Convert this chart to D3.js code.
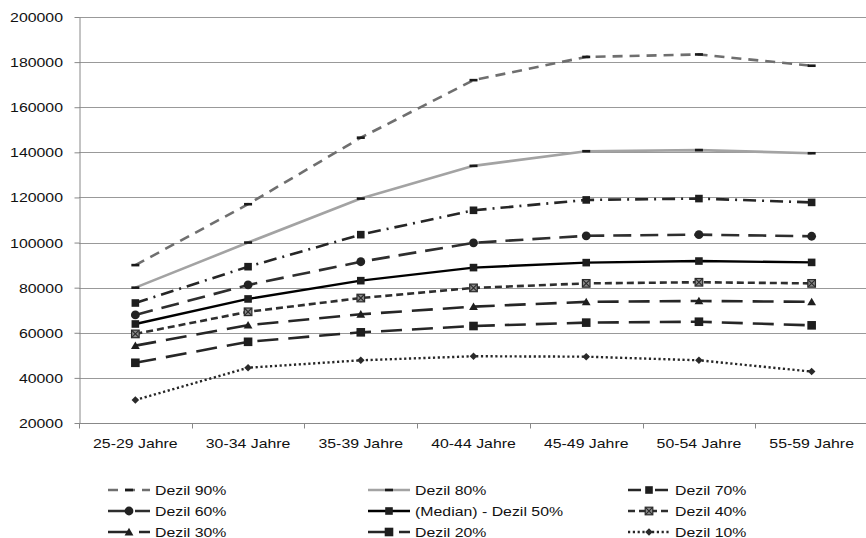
<!DOCTYPE html>
<html>
<head>
<meta charset="utf-8">
<script src="https://cdn.jsdelivr.net/npm/d3@7"></script>
<style>
  html, body { margin: 0; padding: 0; background: #fff; }
  svg { display: block; font-family: "Liberation Sans", Arial, sans-serif; }
</style>
</head>
<body>
<svg id="chart" width="866" height="538"></svg>
<script>
// Age groups along the x axis
const categories = ["25-29 Jahre", "30-34 Jahre", "35-39 Jahre", "40-44 Jahre", "45-49 Jahre", "50-54 Jahre", "55-59 Jahre"];

// Income deciles per age group
const dezil90 = [90000, 117000, 146500, 172000, 182300, 183400, 178400];
const dezil80 = [80000, 100000, 119500, 134000, 140500, 141000, 139600];
const dezil70 = [73200, 89300, 103500, 114300, 118900, 119500, 117800];
const dezil60 = [67900, 81200, 91500, 99900, 103000, 103500, 102800];
const dezil50 = [63900, 75000, 83100, 88900, 91100, 91800, 91200];
const dezil40 = [59500, 69300, 75400, 79900, 81900, 82400, 81900];
const dezil30 = [54300, 63400, 68200, 71600, 73700, 74100, 73700];
const dezil20 = [46700, 56000, 60200, 63000, 64500, 64900, 63300];
const dezil10 = [30200, 44500, 47800, 49600, 49400, 47800, 42800];

const yTicks = [20000, 40000, 60000, 80000, 100000, 120000, 140000, 160000, 180000, 200000];

const seriesNames = ["Dezil 90%", "Dezil 80%", "Dezil 70%", "Dezil 60%", "(Median) - Dezil 50%", "Dezil 40%", "Dezil 30%", "Dezil 20%", "Dezil 10%"];
const seriesValues = [dezil90, dezil80, dezil70, dezil60, dezil50, dezil40, dezil30, dezil20, dezil10];

// Line and marker styling per series
const styles = [
  { color: "#6f6f6f", width: 2.6, dash: "10,7", marker: "bar" },
  { color: "#a3a3a3", width: 2.6, dash: null, marker: "bar" },
  { color: "#262626", width: 2.6, dash: "13,6,2,6", marker: "square" },
  { color: "#2e2e2e", width: 2.6, dash: "18,9", marker: "circle" },
  { color: "#000000", width: 2.4, dash: null, marker: "square" },
  { color: "#2e2e2e", width: 2.6, dash: "7,4", marker: "xbox" },
  { color: "#262626", width: 2.6, dash: "21,10", marker: "triangle" },
  { color: "#262626", width: 2.6, dash: "21,10", marker: "bigsquare" },
  { color: "#262626", width: 2.4, dash: "2.2,2.6", marker: "diamond" }
];

const svg = d3.select("#chart");
const plotLeft = 79, plotRight = 868, plotTop = 17, plotBottom = 423;
const SX = 1.22; // horizontal stretch of all labels
const fontSize = 13;

const x = d3.scaleBand().domain(categories).range([plotLeft, plotRight]).paddingInner(0).paddingOuter(0);
const cx = d => x(d) + x.bandwidth() / 2;
const y = d3.scaleLinear().domain([20000, 200000]).range([plotBottom, plotTop]);

// Horizontal gridlines
svg.append("g")
  .selectAll("line")
  .data(yTicks.filter(t => t > 20000))
  .join("line")
  .attr("x1", plotLeft).attr("x2", 866)
  .attr("y1", d => Math.round(y(d)) + 0.5).attr("y2", d => Math.round(y(d)) + 0.5)
  .attr("stroke", "#999").attr("stroke-width", 1);

// Y axis
const yAxis = svg.append("g")
  .attr("transform", `translate(${plotLeft + 0.5},0)`)
  .call(d3.axisLeft(y).tickValues(yTicks).tickSize(5).tickSizeOuter(0).tickFormat(d3.format("d")));
yAxis.select(".domain").attr("stroke", "#888");
yAxis.selectAll(".tick line").attr("stroke", "#888");
yAxis.selectAll(".tick text")
  .attr("x", -16.5 / SX)
  .attr("dy", "0.35em")
  .attr("transform", `scale(${SX},1)`)
  .attr("font-size", fontSize)
  .attr("font-family", "Liberation Sans, Arial, sans-serif")
  .attr("fill", "#111");

// X axis line and tick marks at band boundaries
const xAxis = svg.append("g").attr("transform", `translate(0,${plotBottom + 0.5})`);
xAxis.append("line").attr("x1", plotLeft).attr("x2", 866).attr("stroke", "#888");
xAxis.selectAll("line.tk")
  .data(categories.map((c, i) => i).concat([categories.length]))
  .join("line").attr("class", "tk")
  .attr("x1", i => Math.round(plotLeft + i * x.step()) + 0.5)
  .attr("x2", i => Math.round(plotLeft + i * x.step()) + 0.5)
  .attr("y1", 0).attr("y2", 5).attr("stroke", "#888");
xAxis.selectAll("g.lbl")
  .data(categories)
  .join("g").attr("class", "lbl")
  .attr("transform", d => `translate(${cx(d)},${447 - plotBottom}) scale(${SX},1)`)
  .append("text")
  .attr("text-anchor", "middle")
  .attr("font-size", fontSize)
  .attr("fill", "#111")
  .text(d => d);

// Marker drawing
function drawMarker(g, kind) {
  switch (kind) {
    case "bar":
      g.append("rect").attr("x", -4).attr("y", -1.3).attr("width", 8).attr("height", 2.6).attr("fill", "#1a1a1a");
      break;
    case "square":
      g.append("rect").attr("x", -3.8).attr("y", -3.8).attr("width", 7.6).attr("height", 7.6).attr("fill", "#1e1e1e");
      break;
    case "bigsquare":
      g.append("rect").attr("x", -4.3).attr("y", -4.3).attr("width", 8.6).attr("height", 8.6).attr("fill", "#1e1e1e");
      break;
    case "circle":
      g.append("circle").attr("r", 4.4).attr("fill", "#222");
      break;
    case "xbox":
      g.append("rect").attr("x", -3.8).attr("y", -3.8).attr("width", 7.6).attr("height", 7.6)
        .attr("fill", "#8a8a8a").attr("stroke", "#2a2a2a").attr("stroke-width", 1.2);
      g.append("path").attr("d", "M-3.3,-3.3L3.3,3.3M-3.3,3.3L3.3,-3.3").attr("stroke", "#2a2a2a").attr("stroke-width", 1.1);
      break;
    case "triangle":
      g.append("path").attr("d", "M0,-4.2L4.4,3.4L-4.4,3.4Z").attr("fill", "#1e1e1e");
      break;
    case "diamond":
      g.append("path").attr("d", "M0,-3.8L3.8,0L0,3.8L-3.8,0Z").attr("fill", "#2a2a2a");
      break;
  }
}

const line = d3.line().x((d, i) => cx(categories[i])).y(d => y(d));

// Series lines and markers
seriesValues.forEach((vals, si) => {
  const st = styles[si];
  const g = svg.append("g").attr("class", "series");
  g.append("path")
    .attr("d", line(vals))
    .attr("fill", "none")
    .attr("stroke", st.color)
    .attr("stroke-width", st.width)
    .attr("stroke-dasharray", st.dash)
    .attr("stroke-linejoin", "round");
  vals.forEach((v, i) => {
    drawMarker(g.append("g").attr("transform", `translate(${cx(categories[i])},${y(v)})`), st.marker);
  });
});

// Legend: three columns, three rows
const legX = [108, 368, 628];
const legY = [490, 511, 532];
const legend = svg.append("g");
seriesNames.forEach((name, i) => {
  const col = i % 3, row = Math.floor(i / 3);
  const st = styles[i];
  const g = legend.append("g").attr("transform", `translate(${legX[col]},${legY[row]})`);
  g.append("line").attr("x1", 0).attr("x2", 42).attr("y1", 0).attr("y2", 0)
    .attr("stroke", st.color).attr("stroke-width", st.width).attr("stroke-dasharray", st.dash);
  drawMarker(g.append("g").attr("transform", "translate(21,0)"), st.marker);
  g.append("g").attr("transform", `translate(47,0) scale(${SX},1)`)
    .append("text")
    .attr("dy", "0.35em")
    .attr("font-size", fontSize)
    .attr("fill", "#111")
    .text(name);
});
</script>
</body>
</html>
